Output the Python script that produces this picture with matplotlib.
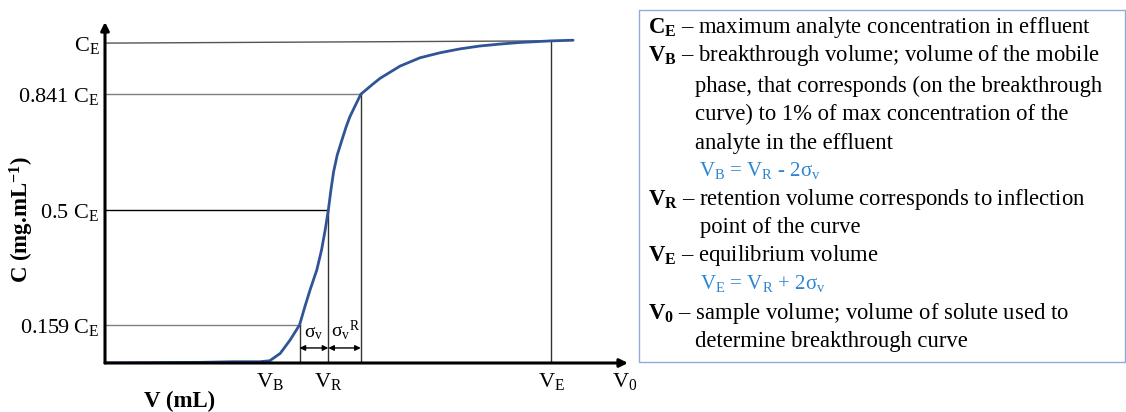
import matplotlib.pyplot as plt
from matplotlib.patches import Rectangle

plt.rcParams['font.family'] = ['Liberation Serif', 'DejaVu Serif']
plt.rcParams['mathtext.fontset'] = 'custom'
plt.rcParams['mathtext.rm'] = 'Liberation Serif'
plt.rcParams['mathtext.it'] = 'Liberation Serif:italic'
plt.rcParams['mathtext.bf'] = 'Liberation Serif:bold'

# breakthrough curve (schematic)
curve_v = [0, 18.2, 24.5, 29.6, 31.5, 33.5, 35.4, 37.2, 38.2, 39.2, 40.5, 41.4, 42.1, 42.7,
           43.2, 43.7, 44.4, 45.3, 46.1, 46.8, 47.8, 48.9, 51.3, 52.6, 56.4, 60.2, 64.1,
           67.9, 71.7, 75.5, 79.3, 85.3, 89.5]
curve_c = [0, 0.2, 0.4, 0.4, 0.7, 3.0, 7.2, 11.9, 17.5, 22.8, 29.1, 35.3, 41.6, 47.8,
           54.1, 59.7, 65.0, 69.7, 73.8, 76.9, 80.3, 84.0, 87.3, 89.0, 92.8, 95.4, 97.0,
           98.2, 99.1, 99.7, 100.2, 100.7, 100.9]

# reference levels and where they meet the curve
level_c = [11.9, 47.8, 84.0, 100.0]
level_v = [37.2, 42.7, 48.9, 85.3]
level_labels = [r"0.159 C$_\mathrm{E}$", r"0.5 C$_\mathrm{E}$", r"0.841 C$_\mathrm{E}$", r"C$_\mathrm{E}$"]
level_colors = ["#7f7f7f", "#000000", "#7f7f7f", "#555555"]

vol_ticks = [31.5, 42.7, 85.3, 99.4]
vol_labels = [r"V$_\mathrm{B}$", r"V$_\mathrm{R}$", r"V$_\mathrm{E}$", r"V$_\mathrm{0}$"]

fig = plt.figure(figsize=(11.26, 4.12), dpi=100)
ax = fig.add_axes([105 / 1126, 49 / 412, 523 / 1126, 341 / 412])
ax.set_xlim(0, 100)
ax.set_ylim(0, 106.6)
for s in ax.spines.values():
    s.set_visible(False)

# guide lines
for v, c, col in zip(level_v, level_c, level_colors):
    top = c if c < 100 else 100.7
    ax.plot([0, v], [c, top], color=col, lw=1.0)
    ax.plot([v, v], [0, top], color="#333333", lw=1.0)

ax.plot(curve_v, curve_c, color="#2f5597", lw=2.0, solid_capstyle="round", solid_joinstyle="round")

# axes arrows
ax.annotate("", xy=(100, 0), xytext=(0, 0), xycoords="data",
            arrowprops=dict(arrowstyle="-|>", lw=2.2, color="black", mutation_scale=12, shrinkA=0, shrinkB=0))
ax.annotate("", xy=(0, 106.6), xytext=(0, 0), xycoords="data",
            arrowprops=dict(arrowstyle="-|>", lw=2.2, color="black", mutation_scale=12, shrinkA=0, shrinkB=0))

# sigma arrows
arr = dict(arrowstyle="<|-|>", lw=1.0, color="black", mutation_scale=8, shrinkA=0, shrinkB=0)
ax.annotate("", xy=(level_v[0], 4.7), xytext=(level_v[1], 4.7), arrowprops=arr)
ax.annotate("", xy=(level_v[1], 4.7), xytext=(level_v[2], 4.7), arrowprops=arr)
ax.text(39.9, 9.4, r"σ$_\mathrm{v}$", ha="center", va="center", fontsize=14)
ax.text(46.0, 10.2, r"σ$_\mathrm{v}{}^\mathrm{R}$", ha="center", va="center", fontsize=14)

ax.set_yticks(level_c, level_labels, fontsize=16)
ax.set_xticks(vol_ticks, vol_labels, fontsize=16)
ax.tick_params(length=0, pad=4)
ax.tick_params(axis="x", pad=6)

fig.text(180 / 1126, 1 - 401 / 412, "V (mL)", fontsize=16.5, fontweight="bold", ha="center", va="center")
fig.text(22 / 1126, 1 - 220 / 412, r"C (mg.mL$^{\mathbf{-1}}$)", fontsize=16.5, fontweight="bold",
         rotation=90, ha="center", va="center")

# legend box on the right
fig.patches.append(Rectangle((639 / 1126, 1 - 362 / 412), 486 / 1126, 352 / 412,
                             transform=fig.transFigure, fill=False, edgecolor="#8faadc", lw=1.0))

blue = "#2e86d0"
lines = [
    (648, 27, r"$\mathbf{C_E}$ – maximum analyte concentration in effluent", "black", 16.3),
    (648, 56, r"$\mathbf{V_B}$ – breakthrough volume; volume of the mobile", "black", 16.3),
    (695, 86, "phase, that corresponds (on the breakthrough", "black", 16.3),
    (695, 114, "curve) to 1% of max concentration of the", "black", 16.3),
    (695, 143, "analyte in the effluent", "black", 16.3),
    (699, 170, r"V$_\mathrm{B}$ = V$_\mathrm{R}$ - 2σ$_\mathrm{v}$", blue, 15),
    (648, 199, r"$\mathbf{V_R}$ – retention volume corresponds to inflection", "black", 16.3),
    (700, 227, "point of the curve", "black", 16.3),
    (648, 256, r"$\mathbf{V_E}$ – equilibrium volume", "black", 16.3),
    (700, 284, r"V$_\mathrm{E}$ = V$_\mathrm{R}$ + 2σ$_\mathrm{v}$", blue, 15),
    (648, 313, r"$\mathbf{V_0}$ – sample volume; volume of solute used to", "black", 16.3),
    (695, 341, "determine breakthrough curve", "black", 16.3),
]
for x, y, s, col, fs in lines:
    fig.text(x / 1126, 1 - y / 412, s, fontsize=fs, color=col, ha="left", va="center")

fig.savefig("out.png", dpi=100)
